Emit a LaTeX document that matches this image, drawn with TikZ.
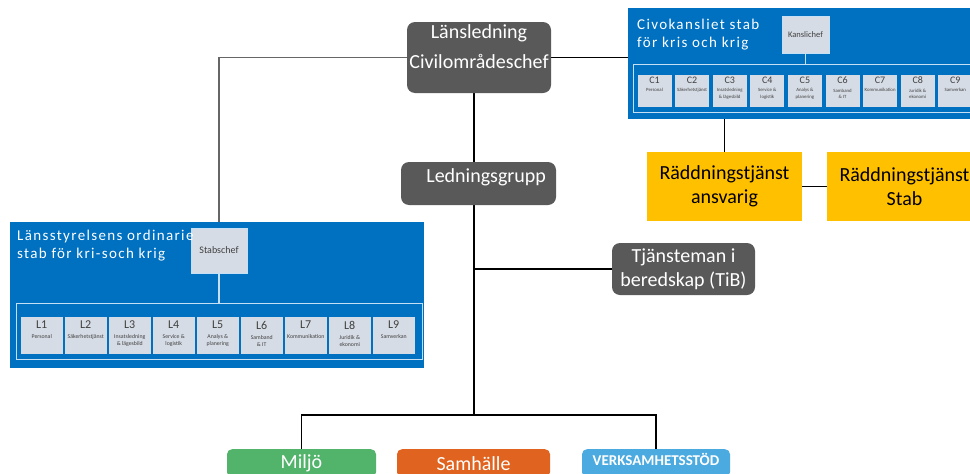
\documentclass[tikz,border=0pt]{standalone}
\usepackage{fontspec}
\setmainfont{Carlito}
\newfontfamily\spacedfont[LetterSpace=9]{Carlito}
\usetikzlibrary{positioning,backgrounds}

\definecolor{leadgray}{HTML}{595959}
\definecolor{stabblue}{HTML}{0070C0}
\definecolor{cellgray}{HTML}{D6DCE5}
\definecolor{framecyan}{HTML}{C5E0F5}
\definecolor{raddyellow}{HTML}{FFC000}
\definecolor{miljogreen}{HTML}{52B36B}
\definecolor{samhorange}{HTML}{E0641F}
\definecolor{verkblue}{HTML}{4BAAE0}

\begin{document}
\begin{tikzpicture}[x=1pt, y=-1pt,
  darkbox/.style={rectangle, rounded corners=8pt, fill=leadgray, text=white, align=center, inner sep=0pt, font=\fontsize{20}{24}\selectfont},
  yellowbox/.style={rectangle, fill=raddyellow, align=center, inner sep=0pt, minimum width=155, minimum height=69, font=\fontsize{20}{24}\selectfont},
  bluepanel/.style={rectangle, fill=stabblue, anchor=north west, inner sep=0pt},
  paneltitle/.style={anchor=north west, align=left, inner sep=0pt, text=white, font=\spacedfont\fontsize{15}{18}\selectfont},
  cellframe/.style={rectangle, draw=framecyan, line width=1.2pt, anchor=north west, inner sep=0pt},
  chef/.style={rectangle, fill=cellgray, draw=framecyan, inner sep=0pt, text=black!75},
  cell/.style={rectangle, fill=cellgray, anchor=north, inner sep=0pt},
  celltext/.style={anchor=north, align=center, inner xsep=0pt, text=black!75},
  unit/.style={rectangle, rounded corners=5pt, anchor=north, inner sep=0pt, minimum height=28, text=white, font=\fontsize{20}{24}\selectfont},
  spine/.style={line width=1.8pt},
  greyline/.style={line width=1.4pt, draw=black!60},
  paleline/.style={line width=1.2pt, draw=framecyan}]

  \useasboundingbox (0,0) rectangle (970,474);
  \clip (0,0) rectangle (970,474);

  % ledning
  \node[darkbox, minimum width=144, minimum height=71, text depth=21pt] (lans) at (479,57.5) {Länsledning\\[6pt]Civilområdeschef};
  \node[darkbox, minimum width=155, minimum height=43, text width=135pt, align=right, text depth=15pt] (ledning) at (478.5,183.5) {Ledningsgrupp};
  \node[darkbox, minimum width=143, minimum height=52] (tib) at (683.5,269) {Tjänsteman i\\beredskap (TiB)};

  % civokansliet
  \node[bluepanel, minimum width=360, minimum height=111] (civo) at (628,8) {};
  \node[paneltitle] (civotitle) at (637,19) {Civokansliet stab\\för kris och krig};
  \node[chef, minimum width=47, minimum height=37, font=\fontsize{8.5}{10}\selectfont] (kanslichef) at (805.5,34.5) {Kanslichef};
  \node[cellframe, minimum width=360, minimum height=48] (cframe) at (633,64) {};
  \foreach \n/\sub [count=\k from 0] in {1/Personal, 2/Säkerhetstjänst, 3/{Insatsledning\\\& lägesbild}, 4/{Service \&\\logistik}, 5/{Analys \&\\planering}, 6/{Samband\\\& IT}, 7/Kommunikation, 8/{Juridik \&\\ekonomi}, 9/Samverkan} {
    \node[cell, minimum width=34, minimum height=32] (c\n) at (654.5+37.6*\k,75) {};
    \node[celltext, inner ysep=1.8pt, font=\fontsize{4.8}{6.3}\selectfont] (ct\n) at (c\n.north) {{\fontsize{10}{11}\selectfont C\n}\\[2pt]\sub};
  }
  \draw[paleline] (kanslichef.south) -- (kanslichef.south |- cframe.north);

  % raddningstjanst
  \node[yellowbox] (radd) at (724.5,186.5) {Räddningstjänst\\ansvarig};
  \node[yellowbox] (raddstab) at (904.5,186.5) {Räddningstjänst\\Stab};

  % lansstyrelsens stab
  \node[bluepanel, minimum width=414, minimum height=146] (lanspanel) at (10,222) {};
  \node[chef, minimum width=56, minimum height=45, font=\fontsize{10}{12}\selectfont] (stabschef) at (219,250.5) {Stabschef};
  \node[paneltitle] (lanstitle) at (17,230) {Länsstyrelsens ordinarie\\stab för kri-soch krig};
  \node[cellframe, minimum width=406, minimum height=56] (lframe) at (16,303) {};
  \foreach \n/\sub [count=\k from 0] in {1/Personal, 2/Säkerhetstjänst, 3/{Insatsledning\\\& lägesbild}, 4/{Service \&\\logistik}, 5/{Analys \&\\planering}, 6/{Samband\\\& IT}, 7/Kommunikation, 8/{Juridik \&\\ekonomi}, 9/Samverkan} {
    \node[cell, minimum width=41.5, minimum height=37] (l\n) at (41.75+44*\k,317) {};
    \node[celltext, inner ysep=3.8pt, font=\fontsize{5.8}{7}\selectfont] (lt\n) at (l\n.north) {{\fontsize{12}{13}\selectfont L\n}\\[3pt]\sub};
  }
  \draw[paleline] (stabschef.south) -- (stabschef.south |- lframe.north);

  % enheter
  \coordinate (split) at (474,415);
  \node[unit, fill=miljogreen, minimum width=149] (miljo) at (301.5,449) {Miljö};
  \node[unit, fill=samhorange, minimum width=153] (samhalle) at (473.5,449) {Samhälle};
  \node[unit, fill=verkblue, minimum width=148, text depth=8pt, font=\bfseries\fontsize{15}{18}\selectfont] (verk) at (656,449) {VERKSAMHETSSTÖD};

  \begin{pgfonlayer}{background}
    \draw[greyline] (lans.west) -| (stabschef.north);
    \draw[spine, line width=1.5pt] (lans.east) -- (lans.east -| civo.west);
    \draw[spine] (lans.south -| split) -- (split);
    \draw[spine] (tib.west) -- (tib.west -| split);
    \draw[spine] (split) -| (miljo.north);
    \draw[spine] (split) -| (verk.north);
    \draw[spine] (civo.south -| radd.north) -- (radd.north);
    \draw[spine] (radd.east) -- (raddstab.west);
  \end{pgfonlayer}
\end{tikzpicture}
\end{document}
